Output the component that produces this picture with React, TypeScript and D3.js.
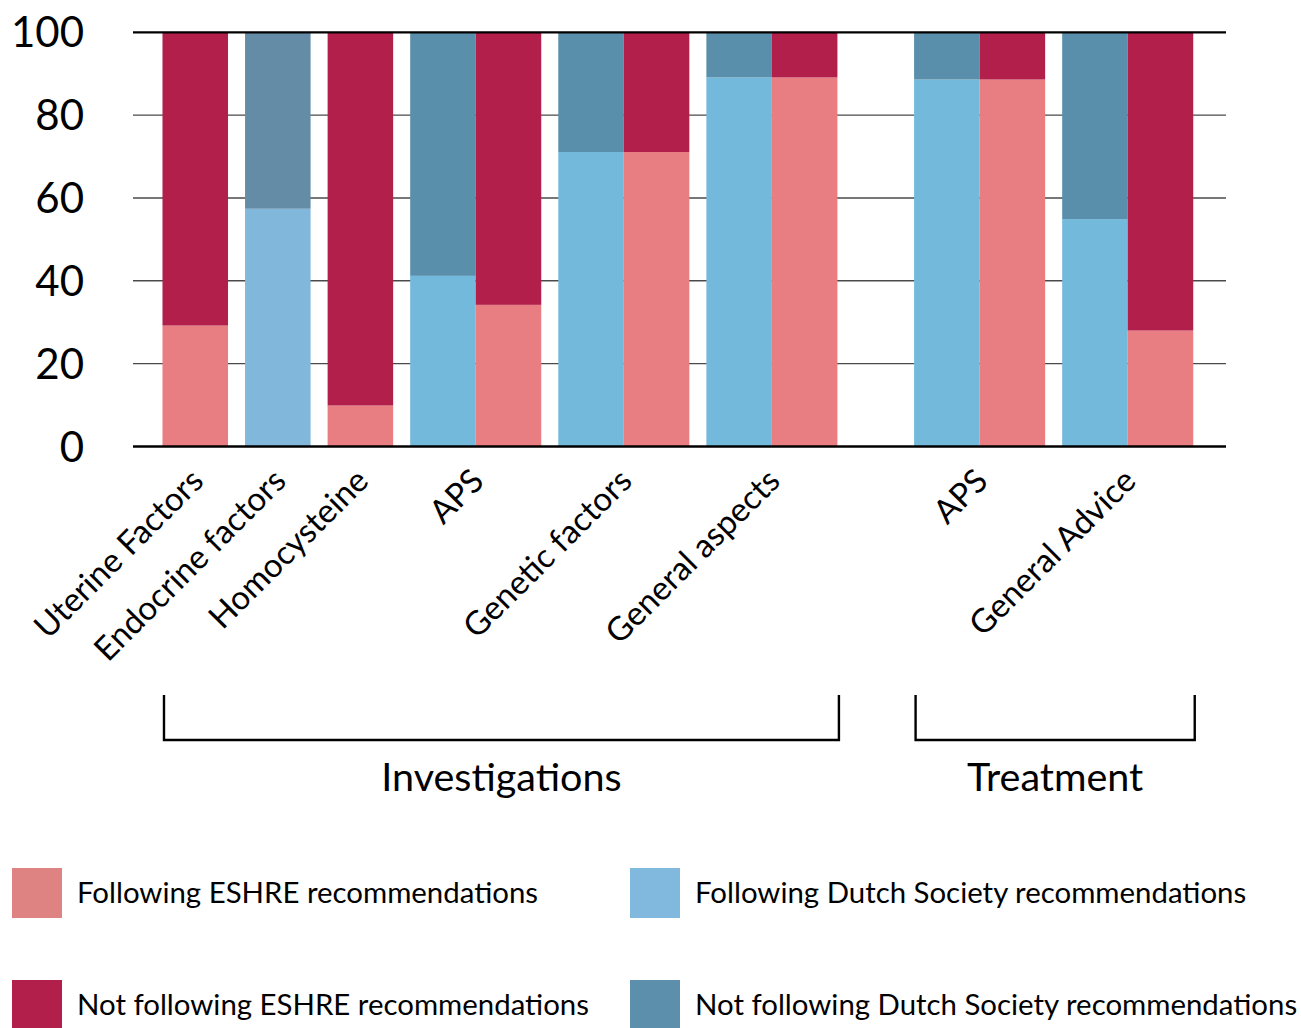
import React from 'react';
import * as d3 from 'd3';

// values (percent of respondents)
const categories = [
  'Uterine Factors',
  'Endocrine factors',
  'Homocysteine',
  'APS',
  'Genetic factors',
  'General aspects',
  'APS',
  'General Advice',
];
const sections = [
  'Investigations',
  'Investigations',
  'Investigations',
  'Investigations',
  'Investigations',
  'Investigations',
  'Treatment',
  'Treatment',
];
const dutchFollowing = [null, 57.4, null, 41.2, 71.1, 89.1, 88.6, 54.9];
const dutchNotFollowing = [null, 42.6, null, 58.8, 28.9, 10.9, 11.4, 45.1];
const eshreFollowing = [29.2, null, 9.9, 34.2, 71.1, 89.1, 88.6, 28.0];
const eshreNotFollowing = [70.8, null, 90.1, 65.8, 28.9, 10.9, 11.4, 72.0];
const yTicks = [0, 20, 40, 60, 80, 100];

const legendLabels = [
  'Following ESHRE recommendations',
  'Following Dutch Society recommendations',
  'Not following ESHRE recommendations',
  'Not following Dutch Society recommendations',
];

const COLORS = {
  eshre: { follow: '#e87e82', not: '#b11f4a' },
  dutch: { follow: '#73b9dc', not: '#5a8fab' },
  dutchSolo: { follow: '#82b7dc', not: '#648ca7' },
};
const legendColors = ['#df8282', '#80b8de', '#b11f4a', '#5b8fab'];

const FONT = 'Lato, "Open Sans", sans-serif';

// layout in "bar width" units
const PAD_LEFT = 0.45;
const PAD_RIGHT = 0.5;
const GAP = 0.26;
const SECTION_GAP = 1.17;

interface Bar {
  cat: number;
  kind: 'dutch' | 'eshre';
  left: number;
  follow: number;
  not: number;
}

function buildBars() {
  const bars: Bar[] = [];
  const groups: { cat: number; start: number; end: number }[] = [];
  let u = PAD_LEFT;
  categories.forEach((_, i) => {
    if (i > 0) u += sections[i] !== sections[i - 1] ? SECTION_GAP : GAP;
    const start = u;
    if (dutchFollowing[i] != null) {
      bars.push({ cat: i, kind: 'dutch', left: u, follow: dutchFollowing[i] as number, not: dutchNotFollowing[i] as number });
      u += 1;
    }
    if (eshreFollowing[i] != null) {
      bars.push({ cat: i, kind: 'eshre', left: u, follow: eshreFollowing[i] as number, not: eshreNotFollowing[i] as number });
      u += 1;
    }
    groups.push({ cat: i, start, end: u });
  });
  return { bars, groups, total: u + PAD_RIGHT };
}

const App: React.FC = () => {
  const width = 1301;
  const height = 1028;
  const { bars, groups, total } = buildBars();

  const x = d3.scaleLinear().domain([0, total]).range([133, 1226]);
  const y = d3.scaleLinear().domain([0, 100]).range([446.5, 32.3]);

  const stack = d3.stack<Bar>().keys(['follow', 'not']).value((d, k) => (d as any)[k]);
  const layers = stack(bars);

  const sectionNames = Array.from(new Set(sections));
  const sectionSpans = sectionNames.map(name => {
    const g = groups.filter(gr => sections[gr.cat] === name);
    return { name, x0: x(g[0].start) + 1.5, x1: x(g[g.length - 1].end) + 1.5 };
  });

  const barColor = (b: Bar, key: string) => {
    const solo = b.kind === 'dutch' && eshreFollowing[b.cat] == null;
    const pal = solo ? COLORS.dutchSolo : COLORS[b.kind];
    return key === 'follow' ? pal.follow : pal.not;
  };

  return (
    <svg width={width} height={height} style={{ position: 'absolute', left: 0, top: 0, background: '#fff' }}>
      {/* grid lines behind the bars */}
      {yTicks.filter(t => t > 0 && t < 100).map(t => (
        <line key={t} x1={x(0)} x2={x(total)} y1={y(t)} y2={y(t)} stroke="#4a4a4a" strokeWidth={1.4} />
      ))}

      {layers.map(layer => (
        <g key={layer.key}>
          {layer.map((seg, i) => (
            <rect
              key={i}
              x={x(bars[i].left)}
              width={x(bars[i].left + 1) - x(bars[i].left)}
              y={y(seg[1])}
              height={y(seg[0]) - y(seg[1])}
              fill={barColor(bars[i], layer.key)}
            />
          ))}
        </g>
      ))}

      <line x1={x(0)} x2={x(total)} y1={y(100)} y2={y(100)} stroke="#000" strokeWidth={2.2} />
      <line x1={x(0)} x2={x(total)} y1={y(0)} y2={y(0)} stroke="#000" strokeWidth={2.6} />

      {yTicks.map(t => (
        <text key={t} x={84} y={y(t)} dy="0.36em" textAnchor="end" fontFamily={FONT} fontSize={42} fill="#000">
          {t}
        </text>
      ))}

      {groups.map(g => {
        const cx = x((g.start + g.end) / 2) + 10;
        const cy = 483;
        return (
          <text
            key={g.cat}
            x={cx}
            y={cy}
            textAnchor="end"
            transform={`rotate(-45 ${cx} ${cy})`}
            fontFamily={FONT}
            fontSize={33}
            fill="#000"
          >
            {categories[g.cat]}
          </text>
        );
      })}

      {sectionSpans.map(s => (
        <g key={s.name}>
          <path
            d={`M${s.x0},695 V740 H${s.x1} V695`}
            fill="none"
            stroke="#000"
            strokeWidth={2.4}
          />
          <text x={(s.x0 + s.x1) / 2} y={791} textAnchor="middle" fontFamily={FONT} fontSize={39.5} fill="#000">
            {s.name}
          </text>
        </g>
      ))}

      {legendLabels.map((label, i) => {
        const lx = i % 2 === 0 ? 12 : 630;
        const ly = i < 2 ? 868 : 980;
        return (
          <g key={label}>
            <rect x={lx} y={ly} width={50} height={50} fill={legendColors[i]} />
            <text x={lx + 65} y={ly + 35} fontFamily={FONT} fontSize={29.4} fill="#000">
              {label}
            </text>
          </g>
        );
      })}
    </svg>
  );
};

export default App;
